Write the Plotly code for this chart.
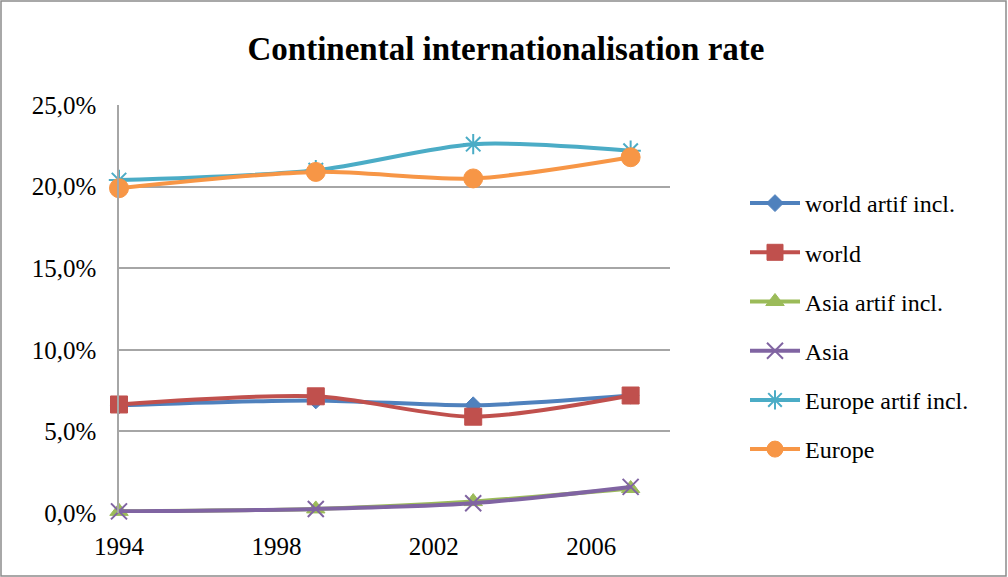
import plotly.graph_objects as go

years = [1994, 1999, 2003, 2007]
series_names = ["world artif incl.", "world", "Asia artif incl.", "Asia", "Europe artif incl.", "Europe"]
world_artif = [0.066, 0.069, 0.066, 0.072]
world = [0.0665, 0.0715, 0.059, 0.072]
asia_artif = [0.001, 0.0025, 0.007, 0.015]
asia = [0.001, 0.0025, 0.006, 0.016]
europe_artif = [0.204, 0.210, 0.226, 0.222]
europe = [0.199, 0.209, 0.205, 0.218]
x_ticks = [1994, 1998, 2002, 2006]
y_ticks = [0, 0.05, 0.10, 0.15, 0.20, 0.25]

values = [world_artif, world, asia_artif, asia, europe_artif, europe]
colors = ["#4F81BD", "#C0504D", "#9BBB59", "#8064A2", "#4BACC6", "#F79646"]
symbols = ["diamond", "square", "triangle-up", "x-thin-open", "asterisk-open", "circle"]
msizes = [13, 17, 16, 16, 17, 19]

fig = go.Figure()
for i, (name, vals) in enumerate(zip(series_names, values)):
    marker = dict(symbol=symbols[i], size=msizes[i], color=colors[i])
    if symbols[i] in ("x-thin-open", "asterisk-open"):
        marker["line"] = dict(color=colors[i], width=2)
    else:
        marker["line"] = dict(color=colors[i], width=1)
    fig.add_trace(go.Scatter(
        x=years, y=vals, name=name, mode="lines+markers",
        line=dict(color=colors[i], width=4, shape="spline", smoothing=0.8),
        marker=marker, legendgroup=name, cliponaxis=False,
    ))

L, R, T, B = 119, 338, 105, 64
W, H = 1008, 577
pw, ph = W - L - R, H - T - B

def px(xp):
    return (xp - L) / pw

def py(yp):
    return (H - B - yp) / ph

fig.update_layout(
    width=W, height=H,
    margin=dict(l=L, r=R, t=T, b=B),
    paper_bgcolor="white", plot_bgcolor="white",
    separators=", ",
    font=dict(family="Liberation Serif", size=24, color="black"),
    title=dict(text="<b>Continental internationalisation rate</b>",
               x=506 / W, xanchor="center", y=1 - 48 / H, yanchor="middle",
               font=dict(family="Liberation Serif", size=33, color="black")),
    xaxis=dict(range=[1994, 2008], tickvals=x_ticks, showgrid=False,
               zeroline=False, showline=False, ticks="",
               ticklabelstandoff=16, tickfont=dict(size=25)),
    yaxis=dict(range=[0, 0.25], tickvals=y_ticks, tickformat=".1%",
               showgrid=True, gridcolor="#A6A6A6", gridwidth=1.5,
               zeroline=False, showline=True, linecolor="#A6A6A6", linewidth=1.5,
               ticks="", ticklabelstandoff=16, tickfont=dict(size=25)),
    legend=dict(x=px(745), y=py(181), xanchor="left", yanchor="top",
                font=dict(size=24), tracegroupgap=15, traceorder="grouped",
                itemwidth=50, bgcolor="rgba(0,0,0,0)"),
    showlegend=True,
    shapes=[dict(type="rect", xref="paper", yref="paper",
                 x0=px(1), x1=px(1006), y0=py(576), y1=py(1),
                 line=dict(color="#8C8C8C", width=1.5), layer="below")],
)

fig.write_html("out.html", config={"displayModeBar": False},
               post_script="document.body.style.margin='0';document.documentElement.style.margin='0';")
